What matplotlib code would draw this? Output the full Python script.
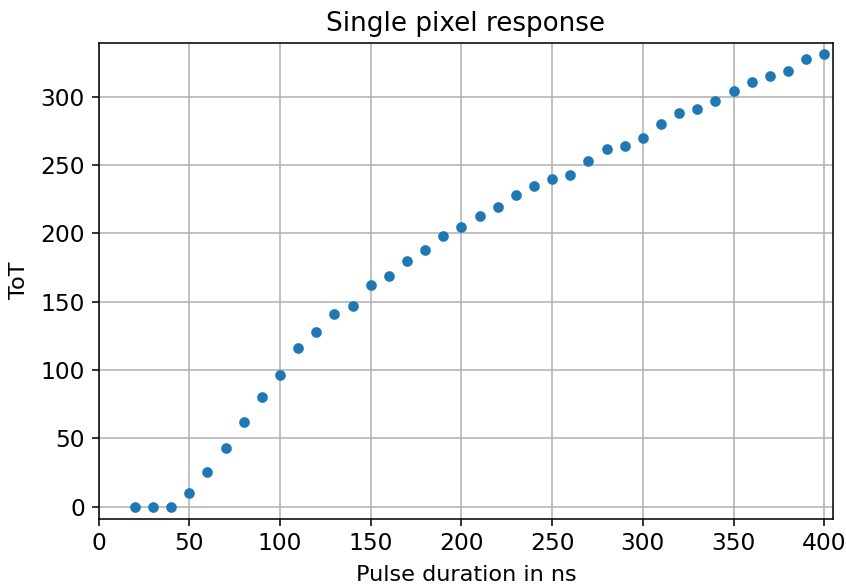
import numpy as np
import matplotlib
matplotlib.use('Agg')
import matplotlib.pyplot as plt

# pulse duration [ns]
pulse = np.arange(20, 401, 10)

# ToT
tot = [0, 0, 0, 10, 25, 43, 62, 80, 96, 116,
       128, 141, 147, 162, 169, 180, 188, 198, 205, 213,
       219, 228, 235, 240, 243, 253, 262, 264, 270, 280,
       288, 291, 297, 304, 311, 315, 319, 328, 331]

fig = plt.figure(figsize=(846/140, 587/140), dpi=140)
ax = fig.add_axes([0.1165, 0.1165, 0.8685, 0.8110])

ax.scatter(pulse, tot, s=20, color='#1f77b4', zorder=3)

ax.set_xlim(0, 405)
ax.set_ylim(-8.8, 339.7)
ax.set_xticks(np.arange(0, 401, 50))
ax.set_yticks(np.arange(0, 301, 50))
ax.tick_params(labelsize=12)
ax.grid(True, color='#b0b0b0', linewidth=0.8)
ax.set_axisbelow(True)

ax.set_title('Single pixel response', fontsize=13.5, pad=6)
ax.set_xlabel('Pulse duration in ns', fontsize=11.5, labelpad=5)
ax.set_ylabel('ToT', fontsize=11.5, labelpad=6)

fig.savefig('out.png', dpi=140)
